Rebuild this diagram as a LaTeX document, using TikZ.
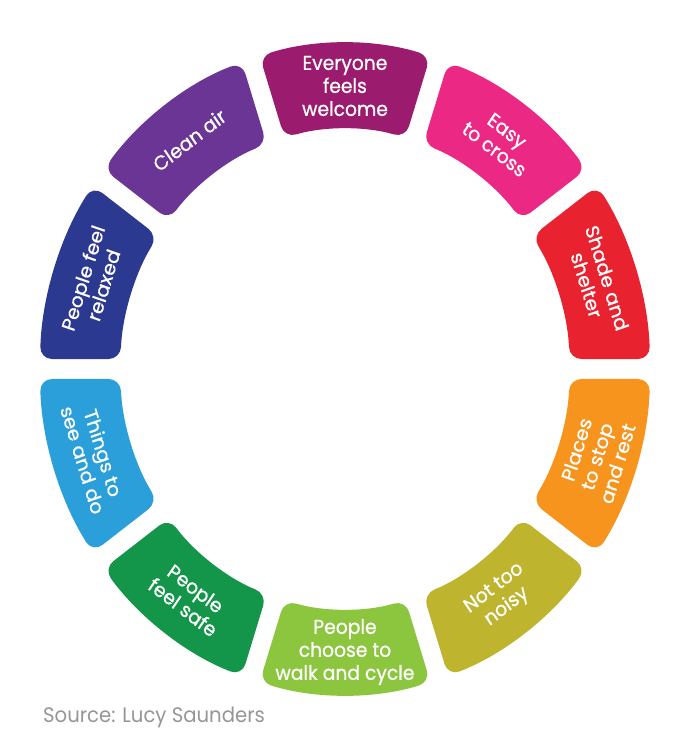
\documentclass[tikz,border=0pt]{standalone}
\usepackage{fontspec}
\setmainfont{Poppins}
\newfontfamily\segfont{Poppins}[FakeBold=0.8]
\definecolor{cA}{RGB}{155,27,110}
\definecolor{cB}{RGB}{236,40,133}
\definecolor{cC}{RGB}{232,35,47}
\definecolor{cD}{RGB}{247,148,29}
\definecolor{cE}{RGB}{190,180,45}
\definecolor{cF}{RGB}{140,198,63}
\definecolor{cG}{RGB}{19,149,74}
\definecolor{cH}{RGB}{42,159,217}
\definecolor{cI}{RGB}{43,57,144}
\definecolor{cJ}{RGB}{106,53,148}
\definecolor{srcgray}{RGB}{150,150,150}
\begin{document}
\begin{tikzpicture}[x=1pt,y=1pt]
\useasboundingbox (-345,-371) rectangle (346,369);
\begin{scope}[xscale=0.936]
\def\Ro{326}\def\Ri{240}
\def\dO{1.758}\def\dI{2.388}
\tikzset{segshape/.style={rounded corners=12pt},
  lab/.style={text=white, align=center, font=\segfont\fontsize{20}{23}\selectfont, transform shape}}
\foreach \a/\c/\t/\n in {
  90/cA/{Everyone\\feels\\welcome}/a,
  54/cB/{Easy\\to cross}/b,
  18/cC/{Shade and\\shelter}/c,
  -18/cD/{Places\\to stop\\and rest}/d,
  -54/cE/{Not too\\noisy}/e,
  -90/cF/{People\\choose to\\walk and cycle}/f,
  -126/cG/{People\\feel safe}/g,
  -162/cH/{Things to\\see and do}/h,
  162/cI/{People feel\\relaxed}/i,
  126/cJ/{Clean air}/j}{
  \pgfmathsetmacro\rr{\a>0 ? \a-90 : \a+90}
  \fill[\c, segshape] ({\a-18+\dO}:\Ro) arc[start angle={\a-18+\dO}, end angle={\a+18-\dO}, radius=\Ro]
    -- ({\a+18-\dI}:\Ri) arc[start angle={\a+18-\dI}, end angle={\a-18+\dI}, radius=\Ri] -- cycle;
  \node[lab, rotate=\rr] (t\n) at (\a:283) {\t};
}
\node[anchor=base west, text=srcgray, font=\fontsize{21}{24}\selectfont, transform shape] (src) at (-326,-353) {Source: Lucy Saunders};
\end{scope}
\end{tikzpicture}
\end{document}
